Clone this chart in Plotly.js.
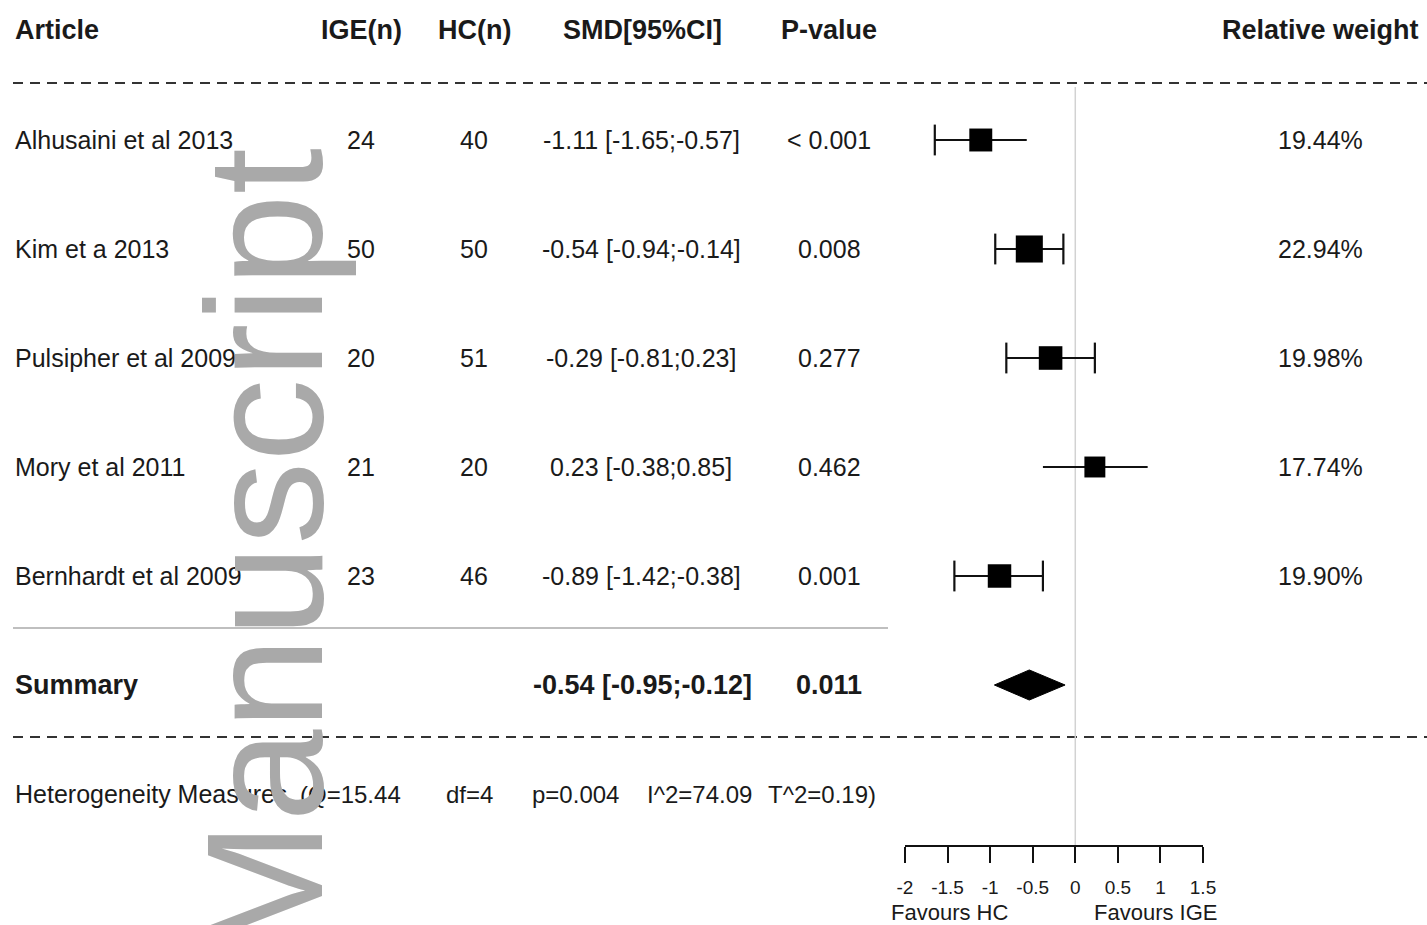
<!DOCTYPE html>
<html><head><meta charset="utf-8">
<script src="https://cdn.plot.ly/plotly-3.0.1.min.js"></script>
<style>html,body{margin:0;padding:0;background:#fff;}#chart{width:1427px;height:925px;}</style>
</head><body><div id="chart"></div>
<script>
// ---------------- data ----------------
const articles = ["Alhusaini et al 2013", "Kim et a 2013", "Pulsipher et al 2009", "Mory et al 2011", "Bernhardt et al 2009"];
const igeN = [24, 50, 20, 21, 23];
const hcN = [40, 50, 51, 20, 46];
const smd = [-1.11, -0.54, -0.29, 0.23, -0.89];
const ciLow = [-1.65, -0.94, -0.81, -0.38, -1.42];
const ciHigh = [-0.57, -0.14, 0.23, 0.85, -0.38];
const pValues = ["< 0.001", "0.008", "0.277", "0.462", "0.001"];
const weights = [19.44, 22.94, 19.98, 17.74, 19.90];
const summaryEst = -0.54, summaryLow = -0.95, summaryHigh = -0.12, summaryP = "0.011";
const heteroLabels = ["(Q=15.44", "df=4", "p=0.004", "I^2=74.09", "T^2=0.19)"];
const headers = ["Article", "IGE(n)", "HC(n)", "SMD[95%CI]", "P-value", "Relative weight"];
const tickValues = [-2, -1.5, -1, -0.5, 0, 0.5, 1, 1.5];
const tickLabels = ["-2", "-1.5", "-1", "-0.5", "0", "0.5", "1", "1.5"];

// ---------------- style / layout helpers ----------------
const W = 1427, H = 925;
const px = v => v / W;
const py = v => 1 - v / H;
const FONT = "Liberation Sans, Arial, Helvetica, sans-serif";
const TXT = "#1a1a1a";
const capLeft = [true, true, true, false, true];
const capRight = [false, true, true, false, true];
const rows = articles.map((_, i) => i);
const summaryRow = articles.length;
const heteroRow = articles.length + 1;

const fmt = v => v.toFixed(2);

// CI line trace
const ciX = [], ciY = [];
rows.forEach(i => { ciX.push(ciLow[i], ciHigh[i], null); ciY.push(i, i, null); });
const capX = [], capY = [];
rows.forEach(i => {
  if (capLeft[i]) { capX.push(ciLow[i]); capY.push(i); }
  if (capRight[i]) { capX.push(ciHigh[i]); capY.push(i); }
});
const dh = 0.138;

const traces = [
  { type: "scatter", mode: "lines", x: ciX, y: ciY, line: { color: "#111", width: 2 }, hoverinfo: "skip", showlegend: false },
  { type: "scatter", mode: "markers", x: capX, y: capY, marker: { symbol: "line-ns", size: 22, opacity: 1, line: { color: "#111", width: 2.2 } }, hoverinfo: "skip", showlegend: false },
  { type: "scatter", mode: "markers", x: smd, y: rows, marker: { symbol: "square", size: weights.map(w => w * 1.18), color: "#000", opacity: 1, line: { width: 0 } }, showlegend: false },
  { type: "scatter", mode: "lines", fill: "toself", fillcolor: "#000",
    x: [summaryLow, summaryEst, summaryHigh, summaryEst, summaryLow],
    y: [summaryRow, summaryRow - dh, summaryRow, summaryRow + dh, summaryRow],
    line: { color: "#000", width: 1 }, showlegend: false }
];

const ann = [];
function addText(text, xPix, y, anchor, opts) {
  opts = opts || {};
  ann.push({ text: text, xref: "paper", x: px(xPix), yref: opts.yref || "y", y: y, xanchor: anchor, yanchor: "middle",
    showarrow: false, font: { family: FONT, size: opts.size || 25, color: opts.color || TXT } });
}
// headers
const headerY = -1.009;
addText("<b>" + headers[0] + "</b>", 13, headerY, "left", { size: 27 });
addText("<b>" + headers[1] + "</b>", 361, headerY, "center", { size: 27 });
addText("<b>" + headers[2] + "</b>", 474, headerY, "center", { size: 27 });
addText("<b>" + headers[3] + "</b>", 642, headerY, "center", { size: 27 });
addText("<b>" + headers[4] + "</b>", 829, headerY, "center", { size: 27 });
addText("<b>" + headers[5] + "</b>", 1421, headerY, "right", { size: 27 });
// rows
rows.forEach(i => {
  addText(articles[i], 13, i, "left");
  addText(String(igeN[i]), 361, i, "center");
  addText(String(hcN[i]), 474, i, "center");
  addText(fmt(smd[i]) + " [" + fmt(ciLow[i]) + ";" + fmt(ciHigh[i]) + "]", 641, i, "center");
  addText(pValues[i], 829, i, "center");
  addText(fmt(weights[i]) + "%", 1320, i, "center");
});
// summary
addText("<b>Summary</b>", 13, summaryRow, "left", { size: 27 });
addText("<b>" + fmt(summaryEst) + " [" + fmt(summaryLow) + ";" + fmt(summaryHigh) + "]</b>", 642, summaryRow, "center", { size: 27 });
addText("<b>" + summaryP + "</b>", 829, summaryRow, "center", { size: 27 });
// heterogeneity
addText("Heterogeneity Measures", 13, heteroRow, "left");
const heteroX = [298, 444, 530, 645, 766];
heteroLabels.forEach((t, i) => addText(t, heteroX[i], heteroRow, "left", { size: 24 }));
// favours
addText("Favours HC", 889, 7.09, "left", { size: 22 });
addText("Favours IGE", 1219, 7.09, "right", { size: 22 });
// watermark
ann.push({ text: "Manuscript", xref: "paper", x: px(264), yref: "paper", y: py(554), xanchor: "center", yanchor: "middle",
  textangle: -90, showarrow: false, font: { family: FONT, size: 166, color: "#a9a9a9" } });

const shapes = [
  { type: "line", xref: "paper", x0: px(13), x1: 1, yref: "y", y0: -0.523, y1: -0.523, line: { color: "#333", width: 2, dash: "10px,7px" }, layer: "below" },
  { type: "line", xref: "paper", x0: px(13), x1: 1, yref: "y", y0: 5.477, y1: 5.477, line: { color: "#333", width: 2, dash: "10px,7px" }, layer: "below" },
  { type: "line", xref: "paper", x0: px(13), x1: px(888), yref: "y", y0: 4.477, y1: 4.477, line: { color: "#aaaaaa", width: 1.6 }, layer: "below" },
  { type: "line", xref: "x", x0: 0, x1: 0, yref: "paper", y0: py(846), y1: py(87), line: { color: "#d2d2d2", width: 1.5 }, layer: "below" }
];

const layout = {
  width: W, height: H,
  margin: { l: 0, r: 0, t: 0, b: 0, pad: 0 },
  paper_bgcolor: "#fff", plot_bgcolor: "rgba(0,0,0,0)",
  showlegend: false,
  font: { family: FONT, color: TXT },
  xaxis: {
    domain: [px(905), px(1203)], range: [-2, 1.5], anchor: "free", position: py(846), side: "bottom",
    showline: true, linewidth: 2, linecolor: "#111", ticks: "outside", ticklen: 16, tickwidth: 2, tickcolor: "#111",
    ticklabelstandoff: 8,
    tickvals: tickValues, ticktext: tickLabels, tickfont: { family: FONT, size: 19, color: TXT },
    showgrid: false, zeroline: false, fixedrange: true
  },
  yaxis: { domain: [0, 1], range: [7.2018, -1.2844], visible: false, showgrid: false, zeroline: false, fixedrange: true },
  shapes: shapes,
  annotations: ann
};

Plotly.newPlot("chart", traces, layout, { staticPlot: true, displayModeBar: false });
</script>
</body></html>
